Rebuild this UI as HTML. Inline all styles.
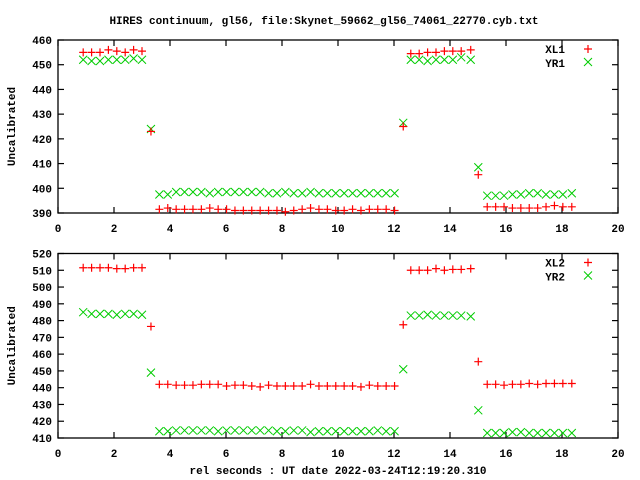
<!DOCTYPE html>
<html><head><meta charset="utf-8"><style>
body{margin:0;background:#fff}
svg{display:block}
text{font-family:"Liberation Mono",monospace;font-weight:bold;font-size:11px;fill:#000}
</style></head><body>
<svg id="chart" width="640" height="480" xmlns="http://www.w3.org/2000/svg">
<text x="324" y="24" text-anchor="middle">HIRES continuum, gl56, file:Skynet_59662_gl56_74061_22770.cyb.txt</text>
<text x="338" y="474" text-anchor="middle">rel seconds : UT date 2022-03-24T12:19:20.310</text>
</svg>
<script>
const times = [0.9,1.2,1.5,1.8,2.1,2.4,2.7,3.0, 3.32,
 3.62,3.92,4.22,4.52,4.82,5.12,5.42,5.72,6.02,6.32,6.62,6.92,7.22,7.52,7.82,8.12,8.42,8.72,9.02,9.32,9.62,9.92,10.22,10.52,10.82,11.12,11.42,11.72,12.02,
 12.33, 12.6,12.9,13.2,13.5,13.8,14.1,14.4,14.74, 15.01,
 15.33,15.63,15.93,16.23,16.53,16.83,17.13,17.43,17.73,18.03,18.35];
const xl1 = [455,455,455,456,455.5,455,456,455.5, 423,
 391.5,392,391.5,391.5,391.5,391.5,392,391.5,391.5,391,391,391,391,391,391,390.5,391,391.5,392,391.5,391.5,391,391,391.5,391,391.5,391.5,391.5,391,
 425, 454.5,454.5,455,455,455.5,455.5,455.5,456, 405.5,
 392.5,392.5,392.5,392,392,392,392,392.5,393,392.5,392.5];
const yr1 = [452,451.5,451.5,452,452,452,452.5,452, 424,
 397.5,397.5,398.5,398.5,398.5,398.5,398,398.5,398.5,398.5,398.5,398.5,398.5,398,398,398.5,398,398,398.5,398,398,398,398,398,398,398,398,398,398,
 426.5, 452,452,451.5,452,452,452,453,452, 408.5,
 397,397,397,397.5,397.5,398,398,397.5,397.5,397.5,398];
const xl2 = [511.5,511.5,511.5,511.5,511,511,511.5,511.5, 476.5,
 442,442,441.5,441.5,441.5,442,442,442,441,441.5,441.5,441,440.5,441.5,441,441,441,441,442,441,441,441,441,441,440.5,441.5,441,441,441,
 477.5, 510,510,510,511,510,510.5,510.5,511, 455.5,
 442,442,441.5,442,442,442.5,442,442.5,442.5,442.5,442.5];
const yr2 = [485,484,484,484,483.5,484,484,483.5, 449,
 414,414,414.5,414.5,414.5,414.5,414.5,414,414.5,414.5,414.5,414.5,414.5,414.5,414,414,414.5,414.5,413.5,414,414,414,414,414,414,414,414.5,414,414,
 451, 483,483,483.5,483,483,483,483,482.5, 426.5,
 413,413,413,413.5,413.5,413,413,413,413,413,413];
const xTicks = [0,2,4,6,8,10,12,14,16,18,20];
const yTicks1 = [390,400,410,420,430,440,450,460];
const yTicks2 = [410,420,430,440,450,460,470,480,490,500,510,520];

const NS = "http://www.w3.org/2000/svg";
const svg = document.getElementById('chart');
function mk(tag, attrs, parent){const e=document.createElementNS(NS,tag);for(const k in attrs)e.setAttribute(k,attrs[k]);(parent||svg).appendChild(e);return e;}

function panel(name, top, bottom, ymin, ymax, yTicks, s1, s2, l1, l2){
  const L=58,R=618;
  const g=mk('g',{});
  
  
  const xs=v=>L+(v-0)/(20-0)*(R-L);
  const ys=v=>bottom-(v-ymin)/(ymax-ymin)*(bottom-top);
  const frame=mk('rect',{x:L,y:top,width:R-L,height:bottom-top,fill:'none',stroke:'#000','stroke-width':1.3},g);
  
  
  xTicks.forEach(t=>{
    const x=xs(t);
    mk('line',{x1:x,y1:bottom,x2:x,y2:bottom-6,stroke:'#000','stroke-width':1.2},g);
    mk('line',{x1:x,y1:top,x2:x,y2:top+6,stroke:'#000','stroke-width':1.2},g);
    const tx=mk('text',{x:x,y:bottom+19,'text-anchor':'middle'},g);
    tx.textContent=t;
    
    
  });
  yTicks.forEach(t=>{
    const y=ys(t);
    mk('line',{x1:L,y1:y,x2:L+6,y2:y,stroke:'#000','stroke-width':1.2},g);
    mk('line',{x1:R,y1:y,x2:R-6,y2:y,stroke:'#000','stroke-width':1.2},g);
    const tx=mk('text',{x:52,y:y+4,'text-anchor':'end'},g);
    tx.textContent=t;
    
    
  });
  const yl=mk('text',{x:15,y:(top+bottom)/2,'text-anchor':'middle',transform:`rotate(-90 15 ${(top+bottom)/2})`},g);
  yl.textContent='Uncalibrated';
  
  
  function plus(x,y,parent){mk('path',{d:`M${x-4},${y}h8M${x},${y-4}v8`,stroke:'#f00','stroke-width':1.2,fill:'none'},parent);}
  function cross(x,y,parent){mk('path',{d:`M${x-4},${y-4}l8,8M${x-4},${y+4}l8,-8`,stroke:'#0c0','stroke-width':1,fill:'none'},parent);}
  const g2=mk('g',{},g);
  
  
  times.forEach((t,i)=>cross(xs(t),ys(s2[i]),g2));
  const g1=mk('g',{},g);
  
  
  times.forEach((t,i)=>plus(xs(t),ys(s1[i]),g1));
  const lg=mk('g',{},g);
  
  
  const a=mk('text',{x:565,y:top+13,'text-anchor':'end'},lg);a.textContent=l1;
  
  
  plus(588,top+9,lg);
  const b=mk('text',{x:565,y:top+27,'text-anchor':'end'},lg);b.textContent=l2;
  
  
  cross(588,top+22,lg);
}
panel('top-panel',40,213,390,460,yTicks1,xl1,yr1,'XL1','YR1');
panel('bottom-panel',253.5,438,410,520,yTicks2,xl2,yr2,'XL2','YR2');
</script>
</body></html>
